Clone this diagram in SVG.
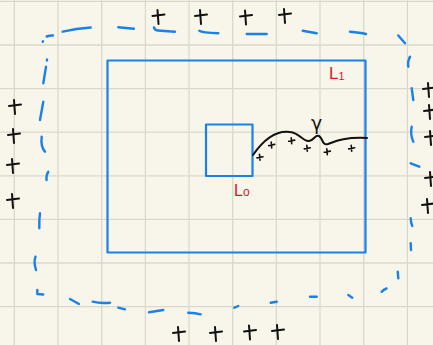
<svg xmlns="http://www.w3.org/2000/svg" xmlns:xlink="http://www.w3.org/1999/xlink" width="433" height="345" viewBox="0 0 433 345">
<style>
.grid{stroke:#dad8cb;stroke-width:1.3;fill:none}
.blue{stroke:#1a80ea;stroke-width:2.2;fill:none;stroke-linecap:round;stroke-linejoin:round}
.dash{stroke:#1a80ea;stroke-width:2.4;fill:none;stroke-linecap:round;stroke-linejoin:round}
.ink{stroke:#111;stroke-width:2;fill:none;stroke-linecap:round;stroke-linejoin:round}
.inks{stroke:#111;stroke-width:1.6;fill:none;stroke-linecap:round;stroke-linejoin:round}
.red{fill:#e0141e;font-family:"Liberation Sans",Arial,sans-serif}
.lbl{fill:#111;font-family:"DejaVu Sans",sans-serif}
</style>
<defs>
<path id="plus" d="M-6,0 L6,-1.5 M-1,-6 L0,8"/>
<path id="splus" d="M-3,0.6 L3,-0.6 M-0.5,-3 L0,3"/>
</defs>
<rect width="433" height="345" fill="#f8f6ea"/>
<g class="grid">
<path d="M14.3,0V345M58,0V345M101.7,0V345M145.4,0V345M189,0V345M232.7,0V345M276.4,0V345M320,0V345M363.7,0V345M407.4,0V345"/>
<path d="M0,1.4H433M0,45H433M0,88.6H433M0,132.2H433M0,175.8H433M0,219.4H433M0,263H433M0,306.6H433"/>
</g>
<g id="boundary" class="dash">
<path d="M42.7,41.7 L43,41.3"/>
<path d="M46.7,36.5 Q50,35.3 53,35.5"/>
<path d="M62.7,31.7 Q76,28.5 90.7,27.5"/>
<path d="M118.3,27.3 L134,28.7"/>
<path d="M154,27.5 Q155,30.5 158,30.5 L175,31.7"/>
<path d="M199.3,30.7 Q202,32.5 218.3,33.3"/>
<path d="M246.7,34 L266.7,34"/>
<path d="M302.7,30.7 L316.7,33.3"/>
<path d="M350,31.7 Q360,32.5 366,34"/>
<path d="M398.3,35.5 L405,43.3"/>
<path d="M410,56.7 Q407.5,61 408.3,66.7"/>
<path d="M411.7,88.3 L413.3,100"/>
<path d="M411.7,126.7 Q410,134 413.3,141.7"/>
<path d="M410.7,163.3 L419.3,166.7"/>
<path d="M410.7,218.3 Q410.8,223 412.3,226"/>
<path d="M410.7,243.3 L411,250"/>
<path d="M397.7,271.7 L398.3,278.3"/>
<path d="M381.7,291.7 Q383.5,289.5 386.5,288.5"/>
<path d="M348.3,295 L352.3,297.7"/>
<path d="M310,296.7 L316.7,296.7"/>
<path d="M270.7,302.7 L276.7,301.7"/>
<path d="M234.3,307.7 L238.3,306"/>
<path d="M188.3,312.7 Q196,313 200.7,314.3"/>
<path d="M149,312.3 L163.3,310"/>
<path d="M118.3,307.7 L125,309.3"/>
<path d="M92.7,301.7 Q100,303.5 110,302.7"/>
<path d="M70,299 L79,304"/>
<path d="M37.3,290 L37.3,294 L43.3,294.5"/>
<path d="M35.5,256.7 Q33.5,262 36,270"/>
<path d="M40,213.3 Q39,220 39.3,228.3"/>
<path d="M48.3,171.7 Q46,175 46.5,180"/>
<path d="M41.7,136.7 Q40.5,147 45,151.7"/>
<path d="M43.3,101.7 L40,120"/>
<path d="M46,66.7 L43.3,83.3"/>
<path d="M47,59.5 L46.9,60.5"/>
</g>
<g id="L1">
<rect class="blue" x="107.5" y="60.5" width="258" height="192"/>
<text class="red" x="329" y="79" font-size="17">L<tspan font-size="11" dy="1">1</tspan></text>
</g>
<g id="L0">
<rect class="blue" x="206" y="124.5" width="46.5" height="51.5"/>
<text class="red" x="234" y="196" font-size="16">L<tspan font-size="12">o</tspan></text>
</g>
<g id="gamma">
<path class="ink" d="M253,155 C262,142 275,130 290,132 C300,133 303,142 309,141 C315,140 315,134 319,136 C323,138 322,146 328,144 C336,141 345,137 367,138"/>
<text class="lbl" x="311" y="130" font-size="19">γ</text>
<g class="inks">
<use xlink:href="#splus" x="260" y="157.3"/>
<use xlink:href="#splus" x="271.7" y="145"/>
<use xlink:href="#splus" x="291.7" y="140.7"/>
<use xlink:href="#splus" x="307.3" y="148.3"/>
<use xlink:href="#splus" x="327.3" y="151.7"/>
<use xlink:href="#splus" x="351.7" y="148.3"/>
</g>
</g>
<g id="charges" class="ink">
<use xlink:href="#plus" x="158.5" y="16"/>
<use xlink:href="#plus" x="201" y="16"/>
<use xlink:href="#plus" x="246" y="16.5"/>
<use xlink:href="#plus" x="285" y="15"/>
<use xlink:href="#plus" x="15" y="106"/>
<use xlink:href="#plus" x="14" y="135"/>
<use xlink:href="#plus" x="13" y="165"/>
<use xlink:href="#plus" x="13" y="200"/>
<use xlink:href="#plus" x="429" y="89"/>
<use xlink:href="#plus" x="430" y="111"/>
<use xlink:href="#plus" x="431" y="137"/>
<use xlink:href="#plus" x="431" y="178"/>
<use xlink:href="#plus" x="428" y="205"/>
<use xlink:href="#plus" x="179" y="333"/>
<use xlink:href="#plus" x="216" y="333"/>
<use xlink:href="#plus" x="250" y="331.5"/>
<use xlink:href="#plus" x="278" y="331"/>
</g>
</svg>
